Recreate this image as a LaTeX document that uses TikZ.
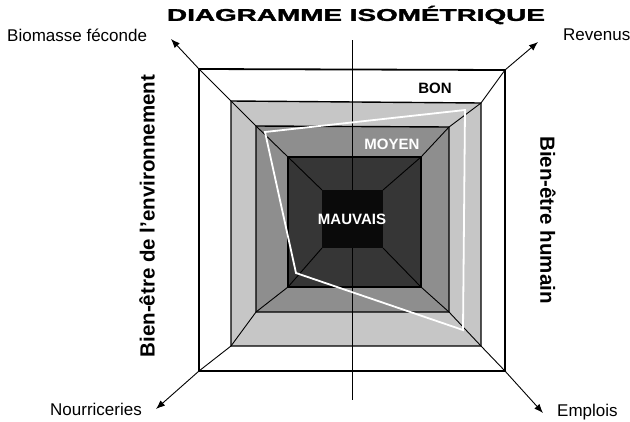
\documentclass[tikz,border=0pt]{standalone}
\usepackage{fontspec}
\setmainfont{Liberation Sans}
\newfontfamily\titlefont[FakeBold=1.5]{Liberation Sans Bold}
\usetikzlibrary{arrows.meta}
\definecolor{bandlight}{HTML}{C6C6C6}
\definecolor{bandmid}{HTML}{8E8E8E}
\definecolor{banddark}{HTML}{363636}
\definecolor{bandblack}{HTML}{0A0A0A}
\tikzset{
  axislabel/.style={inner sep=0pt, font=\fontsize{17}{20}\selectfont},
  sidelabel/.style={inner sep=0pt, font=\fontsize{20.5}{24}\selectfont\bfseries},
  levellabel/.style={inner sep=0pt, font=\fontsize{15}{17}\selectfont\bfseries},
  diag/.style={line width=0.9pt, -{Latex[length=9pt,width=7pt]}},
  sqborder/.style={line width=1.4pt},
  profile/.style={draw=white, line width=1.8pt, line join=miter}
}
\begin{document}
\begin{tikzpicture}[x=1pt,y=-1pt]
\useasboundingbox (0,0) rectangle (630,421);
% corners
\coordinate (o1) at (199,69);  \coordinate (o2) at (505,70);  \coordinate (o3) at (505,371); \coordinate (o4) at (199,371);
\coordinate (l1) at (231,101); \coordinate (l2) at (481,103); \coordinate (l3) at (481,346); \coordinate (l4) at (231,346);
\coordinate (m1) at (256,126); \coordinate (m2) at (449,127); \coordinate (m3) at (449,312); \coordinate (m4) at (256,312);
\coordinate (d1) at (288,157); \coordinate (d2) at (421,157); \coordinate (d3) at (421,287); \coordinate (d4) at (288,287);
\coordinate (b1) at (322,190); \coordinate (b2) at (383,190); \coordinate (b3) at (383,248); \coordinate (b4) at (322,248);
% arrow tips
\coordinate (tTL) at (171,39); \coordinate (tTR) at (538,42);
\coordinate (tBR) at (543,413); \coordinate (tBL) at (156,409);
\coordinate (vtop) at (352,40); \coordinate (vbot) at (352,400);
% fills
\fill[white] (o1) -- (o2) -- (o3) -- (o4) -- cycle;
\fill[bandlight] (l1) -- (l2) -- (l3) -- (l4) -- cycle;
\fill[bandmid] (m1) -- (m2) -- (m3) -- (m4) -- cycle;
\fill[banddark] (d1) -- (d2) -- (d3) -- (d4) -- cycle;
% diagonals
\draw[diag] (b1) -- (d1) -- (m1) -- (l1) -- (o1) -- (tTL);
\draw[diag] (b2) -- (d2) -- (m2) -- (l2) -- (o2) -- (tTR);
\draw[diag] (b3) -- (d3) -- (m3) -- (l3) -- (o3) -- (tBR);
\draw[diag] (b4) -- (d4) -- (m4) -- (l4) -- (o4) -- (tBL);
% vertical axis
\draw[line width=0.9pt] (vtop) -- (vbot);
% borders
\draw[line width=1.8pt] (o1) -- (o2) -- (o3) -- (o4) -- cycle;
\draw[sqborder] (l1) -- (l2) -- (l3) -- (l4) -- cycle;
\draw[sqborder] (m1) -- (m2) -- (m3) -- (m4) -- cycle;
\draw[sqborder] (d1) -- (d2) -- (d3) -- (d4) -- cycle;
\fill[bandblack] (b1) -- (b2) -- (b3) -- (b4) -- cycle;
% profile
\coordinate (p1) at (265,132); \coordinate (p2) at (465,110);
\coordinate (p3) at (463,330); \coordinate (p4) at (296,273);
\draw[profile] (p1) -- (p2) -- (p3) -- (p4) -- cycle;
% labels
\node[levellabel] (bon) at (435,88) {BON};
\node[levellabel, white] (moyen) at (392,144) {MOYEN};
\node[levellabel, white] (mauvais) at (352,219) {MAUVAIS};
\node[inner sep=0pt, font=\fontsize{17}{20}\titlefont] (title) at (356,15) {\scalebox{1.64}[1]{DIAGRAMME ISOMÉTRIQUE}};
\node[axislabel, anchor=west] (biom) at (7,35) {Biomasse féconde};
\node[axislabel, anchor=west] (rev) at (563,35) {Revenus};
\node[axislabel, anchor=west] (nour) at (50,409) {Nourriceries};
\node[axislabel, anchor=west] (empl) at (557,412) {Emplois};
\node[sidelabel, rotate=90] (env) at (147,216) {Bien-être de l'environnement};
\node[sidelabel, rotate=-90] (hum) at (548,220) {Bien-être humain};
\end{tikzpicture}
\end{document}
